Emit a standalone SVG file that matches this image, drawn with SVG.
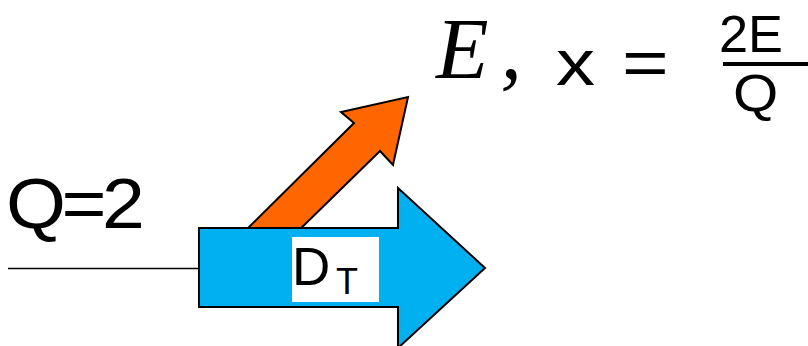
<svg xmlns="http://www.w3.org/2000/svg" width="808" height="346" viewBox="0 0 808 346">
<style>
.sans{font-family:"Liberation Sans",Arial,sans-serif;fill:#000}
.serif{font-family:"Liberation Serif","Times New Roman",serif;font-style:italic;fill:#000}
.shape{stroke:#000;stroke-width:2;stroke-linejoin:miter}
</style>
<rect width="808" height="346" fill="#fff"/>
<g id="connectors">
<line x1="8" y1="268.5" x2="200" y2="268.5" stroke="#000" stroke-width="1.6"/>
</g>
<g id="orange-arrow">
<polygon class="shape" fill="#FF6600" points="240,236 354,123 341,112 408,97 393,165 380,151 293,236"/>
</g>
<g id="blue-arrow">
<polygon class="shape" fill="#00B0F0" points="199,228 398,228 398,188 485,268 398,348 398,307 199,307"/>
<rect x="292" y="237" width="87" height="65" fill="#fff"/>
<text class="sans" x="292" y="285" font-size="53">D</text>
<text class="sans" x="336" y="294" font-size="36">T</text>
</g>
<g id="q-label">
<text class="sans" font-size="70" letter-spacing="-4" transform="translate(6,228) scale(1.1,1)">Q=2</text>
</g>
<g id="formula">
<text class="serif" x="436" y="78" font-size="86">E<tspan dx="12">,</tspan></text>
<text class="sans" font-size="64" transform="translate(556,85) scale(1.22,1)">x</text>
<text class="sans" font-size="64" transform="translate(622,85) scale(1.25,1)">=</text>
<text class="sans" x="719" y="52" font-size="52" textLength="64" lengthAdjust="spacingAndGlyphs">2E</text>
<rect x="723" y="62" width="85" height="4" fill="#000"/>
<text class="sans" font-size="52" transform="translate(733,111) scale(1.12,1)">Q</text>
</g>
</svg>
